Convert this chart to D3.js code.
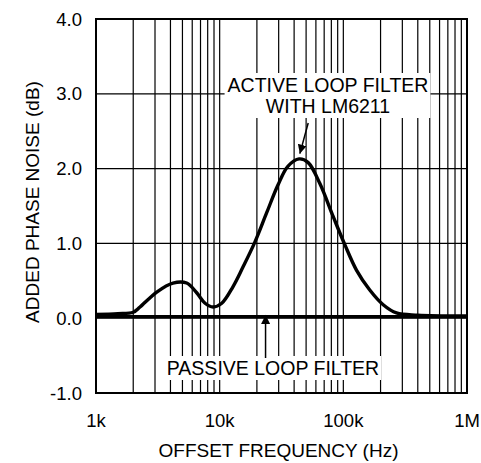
<!DOCTYPE html>
<html>
<head>
<meta charset="utf-8">
<script src="https://cdn.jsdelivr.net/npm/d3@7"></script>
<style>
  body { margin: 0; background: #fff; }
  text { font-family: "Liberation Sans", Arial, sans-serif; fill: #000; }
</style>
</head>
<body>
<svg id="chart"></svg>
<script>
// Added phase noise vs offset frequency, active vs passive loop filter

// Offset frequencies (Hz)
const activeFreq = [1000, 1500, 2000, 2270, 3100, 4190, 5410, 6520, 7620, 8830, 10400, 12800,
    15400, 19300, 24000, 29600, 35600, 43900, 52000, 64600, 82700, 103000, 128000, 163000,
    210000, 269000, 400000, 1000000];
// Added phase noise (dB), active loop filter with LM6211
const activeNoise = [0.05, 0.06, 0.08, 0.15, 0.35, 0.47, 0.47, 0.34, 0.20, 0.15, 0.20, 0.42,
    0.68, 1.02, 1.41, 1.78, 2.03, 2.13, 2.08, 1.80, 1.36, 0.98, 0.64, 0.38,
    0.18, 0.07, 0.04, 0.03];

const passiveFreq = [1000, 10000, 100000, 1000000];
const passiveNoise = [0.02, 0.02, 0.02, 0.02];

const yTicks = [-1, 0, 1, 2, 3, 4];
const xTicks = [1e3, 1e4, 1e5, 1e6];
const xTickLabels = ['1k', '10k', '100k', '1M'];

const width = 481, height = 463;
const margin = { top: 19, right: 14, bottom: 70, left: 96 };
const innerW = width - margin.left - margin.right,
      innerH = height - margin.top - margin.bottom;

const svg = d3.select('#chart')
    .attr('width', width)
    .attr('height', height);

const g = svg.append('g')
    .attr('transform', `translate(${margin.left},${margin.top})`);

const x = d3.scaleLog().domain([1e3, 1e6]).range([0, innerW]);
const y = d3.scaleLinear().domain([-1, 4]).range([innerH, 0]);

// grid: every 1..9 of each decade, plus each dB
let minor = [];
for (let dec = 1e3; dec < 1e6; dec *= 10) {
    for (let m = 1; m < 10; m++) minor.push(dec * m);
}
g.append('g').attr('class', 'vgrid')
  .selectAll('line')
  .data(minor)
  .enter().append('line')
    .attr('x1', d => x(d)).attr('x2', d => x(d))
    .attr('y1', 0).attr('y2', innerH)
    .attr('stroke', '#000')
    .attr('stroke-width', 1.2);

g.append('g').attr('class', 'hgrid')
  .selectAll('line')
  .data(yTicks)
  .enter().append('line')
    .attr('x1', 0).attr('x2', innerW)
    .attr('y1', d => y(d)).attr('y2', d => y(d))
    .attr('stroke', '#000')
    .attr('stroke-width', 1.2);

// labels with white backing so the grid breaks around them
function label(lines, cx, baseline, lineH) {
    const lg = g.append('g');
    const t = lg.append('text')
        .attr('text-anchor', 'middle')
        .attr('font-size', 19.5);
    lines.forEach((s, i) => {
        t.append('tspan')
            .attr('x', cx)
            .attr('y', baseline + i * lineH)
            .text(s);
    });
    const b = t.node().getBBox();
    lg.insert('rect', 'text')
        .attr('x', b.x - 3).attr('y', b.y - 1)
        .attr('width', b.width + 5).attr('height', b.height + 2)
        .attr('fill', '#fff');
}

label(['ACTIVE LOOP FILTER', 'WITH LM6211'], 232, 73, 21);
label(['PASSIVE LOOP FILTER'], 177, 356, 0);

// curves
const line = d3.line()
    .x(d => x(d[0]))
    .y(d => y(d[1]))
    .curve(d3.curveCatmullRom.alpha(0.5));

g.append('path')
    .datum(d3.zip(passiveFreq, passiveNoise))
    .attr('fill', 'none')
    .attr('stroke', '#000')
    .attr('stroke-width', 3.2)
    .attr('d', line);

g.append('path')
    .datum(d3.zip(activeFreq, activeNoise))
    .attr('fill', 'none')
    .attr('stroke', '#000')
    .attr('stroke-width', 3.4)
    .attr('stroke-linejoin', 'round')
    .attr('d', line);

// arrows
svg.append('defs').append('marker')
    .attr('id', 'head')
    .attr('viewBox', '0 0 10 10')
    .attr('refX', 10).attr('refY', 5)
    .attr('markerWidth', 9).attr('markerHeight', 9)
    .attr('markerUnits', 'userSpaceOnUse')
    .attr('orient', 'auto')
  .append('path')
    .attr('d', 'M0,0 L10,5 L0,10 Z')
    .attr('fill', '#000');

function arrow(x1, y1, x2, y2) {
    g.append('line')
        .attr('x1', x1).attr('y1', y1)
        .attr('x2', x2).attr('y2', y2)
        .attr('stroke', '#000')
        .attr('stroke-width', 1.5)
        .attr('marker-end', 'url(#head)');
}
arrow(x(52000), 104, x(44500), y(2.2));
arrow(x(23500), 339, x(23500), y(0.03) - 1);

// frame
g.append('rect')
    .attr('width', innerW).attr('height', innerH)
    .attr('fill', 'none')
    .attr('stroke', '#000')
    .attr('stroke-width', 2);

// tick labels
g.append('g')
  .selectAll('text')
  .data(yTicks)
  .enter().append('text')
    .attr('x', -14)
    .attr('y', d => y(d) + 6.5)
    .attr('text-anchor', 'end')
    .attr('font-size', 18.5)
    .text(d => d.toFixed(1));

g.append('g')
  .selectAll('text')
  .data(xTicks)
  .enter().append('text')
    .attr('x', d => x(d))
    .attr('y', innerH + 34)
    .attr('text-anchor', 'middle')
    .attr('font-size', 18.5)
    .text((d, i) => xTickLabels[i]);

// axis titles
svg.append('text')
    .attr('x', margin.left + innerW / 2 - 3)
    .attr('y', 457)
    .attr('text-anchor', 'middle')
    .attr('font-size', 19)
    .text('OFFSET FREQUENCY (Hz)');

svg.append('text')
    .attr('transform', `translate(39,${margin.top + innerH / 2 - 4}) rotate(-90)`)
    .attr('text-anchor', 'middle')
    .attr('font-size', 19)
    .text('ADDED PHASE NOISE (dB)');
</script>
</body>
</html>
